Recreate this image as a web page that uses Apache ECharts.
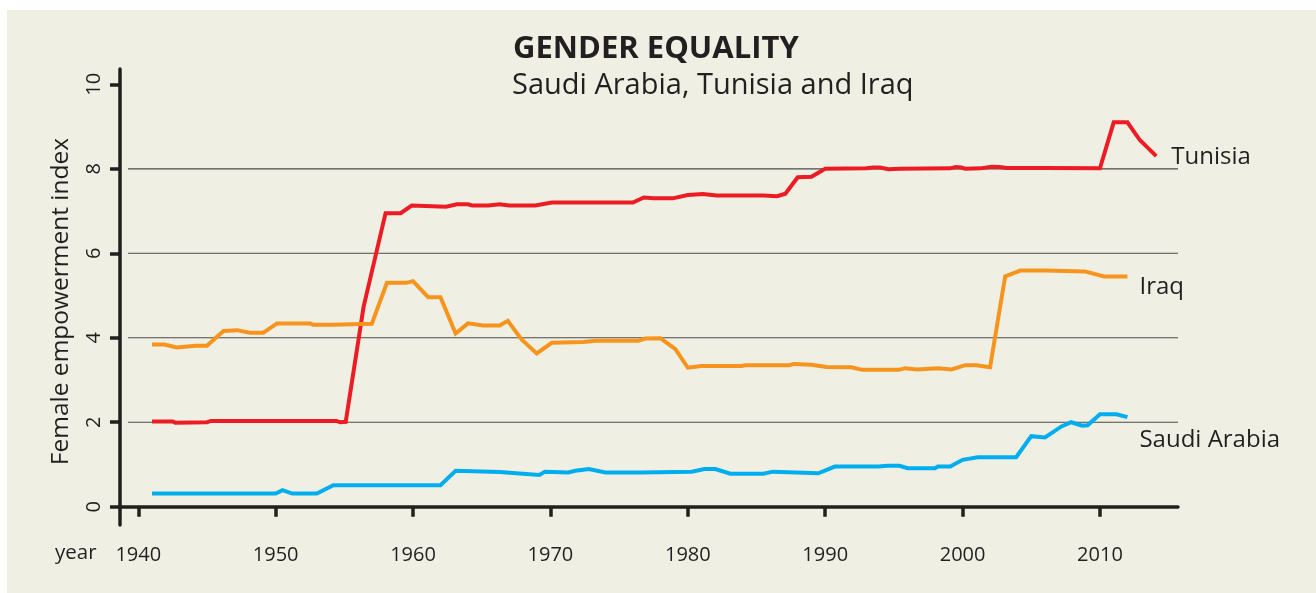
<!DOCTYPE html>
<html>
<head>
<meta charset="utf-8">
<script src="https://cdn.jsdelivr.net/npm/echarts@6/dist/echarts.min.js"></script>
<style>
  html, body { margin: 0; padding: 0; background: #ffffff; }
  #wrap { position: absolute; left: 7px; top: 10px; width: 1309px; height: 583px; background: #eff0e3; }
  #chart { position: absolute; left: 0; top: 0; width: 1316px; height: 593px; }
</style>
</head>
<body>
<div id="wrap"></div>
<div id="chart"></div>
<script>
// ---- data ----
const titleText = 'GENDER EQUALITY';
const subtitleText = 'Saudi Arabia, Tunisia and Iraq';
const yAxisTitle = 'Female empowerment index';
const xAxisTitle = 'year';
const xTicks = [1940, 1950, 1960, 1970, 1980, 1990, 2000, 2010];
const yTicks = [0, 2, 4, 6, 8, 10];
const gridValues = [2, 4, 6, 8];

const tunisia = [
  [1941,2.02],[1942.5,2.02],[1942.7,1.99],[1945.0,2.0],[1945.3,2.03],[1954.4,2.03],[1954.7,2.0],
  [1955.1,2.01],[1956.4,4.73],[1958.0,6.95],[1959.1,6.95],[1959.9,7.13],[1962.4,7.10],[1963.2,7.16],
  [1964.0,7.16],[1964.3,7.13],[1965.5,7.13],[1966.3,7.16],[1967.0,7.13],[1968.9,7.13],[1970.1,7.20],
  [1976.0,7.20],[1976.8,7.32],[1977.5,7.30],[1978.9,7.30],[1980.0,7.38],[1981.1,7.40],[1982.1,7.37],
  [1985.5,7.37],[1986.5,7.35],[1987.1,7.41],[1988.0,7.80],[1989.0,7.81],[1990.0,8.0],[1993.0,8.01],
  [1993.5,8.03],[1994.0,8.03],[1994.6,7.99],[1995.4,8.0],[1999.1,8.01],[1999.5,8.04],[1999.9,8.03],
  [2000.2,8.0],[2001.3,8.01],[2002.1,8.05],[2002.7,8.04],[2003.2,8.02],[2006.0,8.02],[2010.0,8.01],
  [2011.0,9.10],[2012.0,9.10],[2012.9,8.68],[2014.1,8.30]
];
const iraq = [
  [1941.0,3.84],[1941.9,3.84],[1942.8,3.77],[1944.2,3.81],[1945.0,3.81],[1946.2,4.16],[1947.2,4.18],
  [1948.1,4.12],[1949.1,4.12],[1950.1,4.34],[1952.5,4.34],[1952.7,4.31],[1954.1,4.31],[1954.2,4.33],
  [1957.0,4.33],[1958.1,5.30],[1959.5,5.30],[1960.0,5.34],[1961.1,4.96],[1962.0,4.96],[1963.1,4.10],
  [1964.0,4.34],[1965.1,4.29],[1966.3,4.29],[1966.9,4.40],[1967.9,3.96],[1969.0,3.63],[1970.1,3.88],
  [1972.4,3.90],[1973.3,3.93],[1976.4,3.93],[1976.9,3.98],[1978.0,3.99],[1979.1,3.73],[1980.0,3.29],
  [1981.0,3.33],[1983.9,3.33],[1984.2,3.35],[1987.4,3.35],[1987.7,3.38],[1989.0,3.36],[1990.1,3.31],
  [1991.9,3.30],[1992.7,3.24],[1995.4,3.24],[1995.8,3.28],[1996.7,3.25],[1998.2,3.28],[1999.2,3.25],
  [2000.2,3.35],[2001.0,3.35],[2002.0,3.30],[2003.1,5.45],[2004.2,5.59],[2006.0,5.59],[2006.1,5.57],
  [2008.9,5.57],[2010.3,5.45],[2012.0,5.45]
];
const saudiArabia = [
  [1941.0,0.31],[1950.0,0.31],[1950.5,0.39],[1951.2,0.31],[1953.0,0.31],[1954.2,0.51],[1962.0,0.51],
  [1963.1,0.85],[1966.3,0.82],[1969.2,0.75],[1969.6,0.83],[1971.3,0.81],[1971.8,0.85],[1972.8,0.89],
  [1974.0,0.81],[1976.5,0.81],[1980.3,0.83],[1981.2,0.89],[1982.0,0.89],[1983.1,0.78],[1985.5,0.78],
  [1986.2,0.83],[1989.5,0.79],[1990.7,0.95],[1993.9,0.95],[1994.5,0.97],[1995.4,0.97],[1996.0,0.91],
  [1998.0,0.91],[1998.2,0.95],[1999.1,0.95],[2000.0,1.11],[2001.1,1.17],[2003.9,1.17],[2005.0,1.67],
  [2006.0,1.64],[2007.2,1.90],[2007.9,2.0],[2008.7,1.92],[2009.1,1.93],[2010.0,2.19],[2011.2,2.19],
  [2012.0,2.12]
];

// ---- chart ----
const FONT = '"Open Sans", "Noto Sans", sans-serif';
const INK = '#231f20';
const X_MIN = 1938.67, X_MAX = 2015.68;
const Y_MIN = -0.433, Y_MAX = 10.362;
const GRID_START = 1939.25;

const chart = echarts.init(document.getElementById('chart'), null, { renderer: 'canvas' });

function lineSeries(name, data, color, offset) {
  return {
    name: name, type: 'line', data: data, symbol: 'none', z: 5,
    lineStyle: { color: color, width: 4, join: 'miter' },
    endLabel: {
      show: true, formatter: '{a}', color: INK, fontFamily: FONT, fontSize: 24,
      distance: 12, offset: offset
    },
    emphasis: { disabled: true }, animation: false
  };
}

const gridSeries = gridValues.map(v => ({
  type: 'line', data: [[GRID_START, v], [X_MAX, v]], symbol: 'none', z: 1, silent: true,
  lineStyle: { color: '#4a4a48', width: 1.2 }, animation: false
}));

chart.setOption({
  backgroundColor: 'transparent',
  animation: false,
  grid: { left: 120, right: 138, top: 69, bottom: 68, containLabel: false },
  graphic: [
    { type: 'text', left: 513, top: 34, style: { text: titleText, font: 'bold 31px ' + FONT, fill: INK } },
    { type: 'text', left: 512, top: 71, style: { text: subtitleText, font: '29px ' + FONT, fill: INK } },
    { type: 'text', left: 55, top: 543, style: { text: xAxisTitle, font: '20.5px ' + FONT, fill: INK } }
  ],
  xAxis: {
    type: 'value', min: X_MIN, max: X_MAX,
    axisLine: { show: true, lineStyle: { color: INK, width: 3.5 } },
    axisTick: { show: true, customValues: xTicks, length: 10, lineStyle: { color: INK, width: 3.5 } },
    axisLabel: { customValues: xTicks, color: INK, fontFamily: FONT, fontSize: 20, margin: 20,
                 formatter: v => String(v) },
    splitLine: { show: false }
  },
  yAxis: {
    type: 'value', min: Y_MIN, max: Y_MAX,
    name: yAxisTitle, nameLocation: 'middle', nameRotate: 90, nameGap: 46,
    nameTextStyle: { color: INK, fontFamily: FONT, fontSize: 24.5, padding: [0, 9, 0, 0] },
    axisLine: { show: true, lineStyle: { color: INK, width: 3.5 } },
    axisTick: { show: true, customValues: yTicks, length: 10, lineStyle: { color: INK, width: 3.5 } },
    axisLabel: { customValues: yTicks, rotate: 90, color: INK, fontFamily: FONT, fontSize: 20, margin: 16,
                 formatter: v => String(v) },
    splitLine: { show: false }
  },
  series: gridSeries.concat([
    lineSeries('Tunisia', tunisia, '#ed1c24', [3, 1]),
    lineSeries('Iraq', iraq, '#f7941d', [0, 11]),
    lineSeries('Saudi Arabia', saudiArabia, '#00aeef', [0, 23])
  ])
});
</script>
</body>
</html>
